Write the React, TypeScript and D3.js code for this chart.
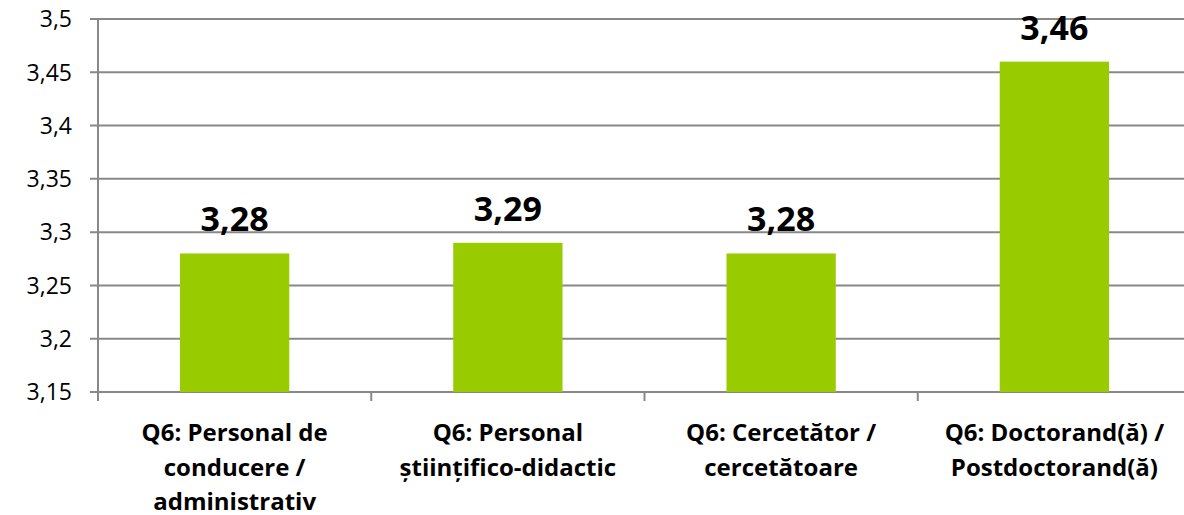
import React, { useEffect, useRef } from "react";
import * as d3 from "d3";

const categories = [
  ["Q6: Personal de", "conducere /", "administrativ"],
  ["Q6: Personal", "științifico-didactic"],
  ["Q6: Cercetător /", "cercetătoare"],
  ["Q6: Doctorand(ă) /", "Postdoctorand(ă)"],
];
const values = [3.28, 3.29, 3.28, 3.46];
const yTicks = [3.15, 3.2, 3.25, 3.3, 3.35, 3.4, 3.45, 3.5];

const W = 1184;
const H = 515;
const fmt = (v: number) => String(+v.toFixed(2)).replace(".", ",");

export default function App() {
  const ref = useRef<SVGSVGElement>(null);
  useEffect(() => {
    const svg = d3.select(ref.current);
    svg.selectAll("*").remove();
    const left = 98, right = 1191, top = 19, bottom = 392;
    const y = d3.scaleLinear().domain([3.15, 3.5]).range([bottom, top]);
    const x = d3.scaleBand<number>().domain(d3.range(values.length)).range([left, right]).paddingInner(0.6).paddingOuter(0.3);
    const band = (right - left) / values.length;
    const grid = "#888888";
    const g = svg.append("g");
    g.selectAll("line.grid").data(yTicks).join("line")
      .attr("x1", left - 8).attr("x2", right)
      .attr("y1", (d) => y(d)).attr("y2", (d) => y(d))
      .attr("stroke", grid).attr("stroke-width", 2);
    g.append("line").attr("x1", left).attr("x2", left).attr("y1", top).attr("y2", bottom + 9)
      .attr("stroke", grid).attr("stroke-width", 2);
    g.selectAll("line.xt").data(d3.range(values.length + 1)).join("line")
      .attr("x1", (d) => left + d * band).attr("x2", (d) => left + d * band)
      .attr("y1", bottom).attr("y2", bottom + 9)
      .attr("stroke", grid).attr("stroke-width", 2);
    g.selectAll("text.yl").data(yTicks).join("text")
      .attr("x", 72).attr("y", (d) => y(d)).attr("dy", "0.36em")
      .attr("text-anchor", "end")
      .attr("font-family", "'Open Sans', sans-serif").attr("font-size", 23)
      .attr("fill", "#000").text((d) => fmt(d));
    g.selectAll("rect.bar").data(values).join("rect")
      .attr("x", (_d, i) => x(i)!).attr("width", x.bandwidth())
      .attr("y", (d) => y(d)).attr("height", (d) => bottom - y(d))
      .attr("fill", "#99CC00");
    g.selectAll("text.dl").data(values).join("text")
      .attr("x", (_d, i) => x(i)! + x.bandwidth() / 2).attr("y", (d) => y(d) - 22)
      .attr("text-anchor", "middle")
      .attr("font-family", "'Open Sans', sans-serif").attr("font-weight", "bold").attr("font-size", 34)
      .attr("fill", "#000").text((d) => fmt(d));
    categories.forEach((lines, i) => {
      const cx = x(i)! + x.bandwidth() / 2;
      const t = g.append("text").attr("text-anchor", "middle")
        .attr("font-family", "'Open Sans', sans-serif").attr("font-weight", "bold").attr("font-size", 24)
        .attr("fill", "#000");
      lines.forEach((l, j) => {
        t.append("tspan").attr("x", cx).attr("y", 441 + j * 34.5).text(l);
      });
    });
  }, []);
  return (
    <svg ref={ref} width={W} height={H} style={{ position: "absolute", left: 0, top: 0, background: "#fff" }} />
  );
}
